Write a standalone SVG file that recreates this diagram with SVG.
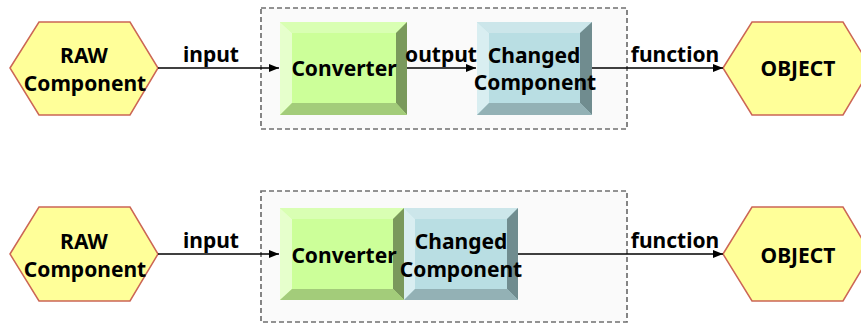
<svg xmlns="http://www.w3.org/2000/svg" width="861" height="327" viewBox="0 0 861 327">
<style>
text{font-family:"Noto Sans","DejaVu Sans",sans-serif;font-weight:700;font-size:21px;fill:#000;text-anchor:middle}
.hex{fill:#ffff99;stroke:#cc6655;stroke-width:1.5}
.grp{fill:#fafafa;stroke:#707070;stroke-width:1.7;stroke-dasharray:5,3}
.cf{fill:#ccff99}.ct{fill:#d9ffb3}.cl{fill:#e6ffcc}.cr{fill:#7a995c}.cb{fill:#a3cc7a}
.hf{fill:#b9dee3}.ht{fill:#cce6ea}.hl{fill:#d9eef1}.hr{fill:#708c8f}.hb{fill:#93b1b5}
.edge{stroke:#000;stroke-width:1.5;fill:none;marker-end:url(#arr)}
</style>
<defs>
<marker id="arr" viewBox="0 0 10 10" refX="10" refY="5" markerWidth="10" markerHeight="10" markerUnits="userSpaceOnUse" orient="auto">
<path d="M0,1 L10,5 L0,9 z" fill="#000"/>
</marker>
</defs>
<rect width="861" height="327" fill="#fff"/>
<g id="group1"><rect class="grp" x="261" y="8" width="366" height="121"/></g>
<g id="group2"><rect class="grp" x="261" y="191" width="366" height="131"/></g>

<g id="raw1">
<polygon class="hex" points="10,68 39,22 130,22 158,68 130,115 39,115"/>
<text x="84" y="63">RAW</text><text x="85" y="91">Component</text>
</g>
<g id="conv1">
<rect class="cf" x="280" y="22" width="127" height="93"/>
<polygon class="ct" points="280,22 407,22 396,33 292,33"/>
<polygon class="cl" points="280,22 292,33 292,103 280,115"/>
<polygon class="cr" points="407,22 407,115 396,103 396,33"/>
<polygon class="cb" points="280,115 292,103 396,103 407,115"/>
<text x="344" y="76">Converter</text>
</g>
<g id="changed1">
<rect class="hf" x="477" y="22" width="115" height="93"/>
<polygon class="ht" points="477,22 592,22 580,33 489,33"/>
<polygon class="hl" points="477,22 489,33 489,103 477,115"/>
<polygon class="hr" points="592,22 592,115 580,103 580,33"/>
<polygon class="hb" points="477,115 489,103 580,103 592,115"/>
<text x="534" y="63">Changed</text><text x="535" y="90">Component</text>
</g>
<g id="obj1">
<polygon class="hex" points="723,68 752,22 843,22 871,68 843,115 752,115"/>
<text x="798" y="76">OBJECT</text>
</g>

<g id="raw2">
<polygon class="hex" points="10,254 39,207 130,207 158,254 130,301 39,301"/>
<text x="84" y="249">RAW</text><text x="85" y="277">Component</text>
</g>
<g id="conv2">
<rect class="cf" x="280" y="208" width="124" height="92"/>
<polygon class="ct" points="280,208 404,208 393,219 292,219"/>
<polygon class="cl" points="280,208 292,219 292,289 280,300"/>
<polygon class="cr" points="404,208 404,300 393,289 393,219"/>
<polygon class="cb" points="280,300 292,289 393,289 404,300"/>
<text x="344" y="263">Converter</text>
</g>
<g id="changed2">
<rect class="hf" x="404" y="208" width="114" height="92"/>
<polygon class="ht" points="404,208 518,208 507,219 415,219"/>
<polygon class="hl" points="404,208 415,219 415,289 404,300"/>
<polygon class="hr" points="518,208 518,300 507,289 507,219"/>
<polygon class="hb" points="404,300 415,289 507,289 518,300"/>
<text x="461" y="249">Changed</text><text x="461" y="277">Component</text>
</g>
<g id="obj2">
<polygon class="hex" points="723,254 752,207 843,207 871,254 843,301 752,301"/>
<text x="798" y="263">OBJECT</text>
</g>

<g id="connectors">
<line class="edge" x1="158" y1="68" x2="279" y2="68"/>
<line class="edge" x1="407" y1="68" x2="476" y2="68"/>
<line class="edge" x1="592" y1="68" x2="723" y2="68"/>
<line class="edge" x1="158" y1="254" x2="279" y2="254"/>
<line class="edge" x1="518" y1="254" x2="723" y2="254"/>
<text x="211" y="62">input</text>
<text x="441" y="62">output</text>
<text x="675" y="62">function</text>
<text x="211" y="248">input</text>
<text x="675" y="248">function</text>
</g>
</svg>
